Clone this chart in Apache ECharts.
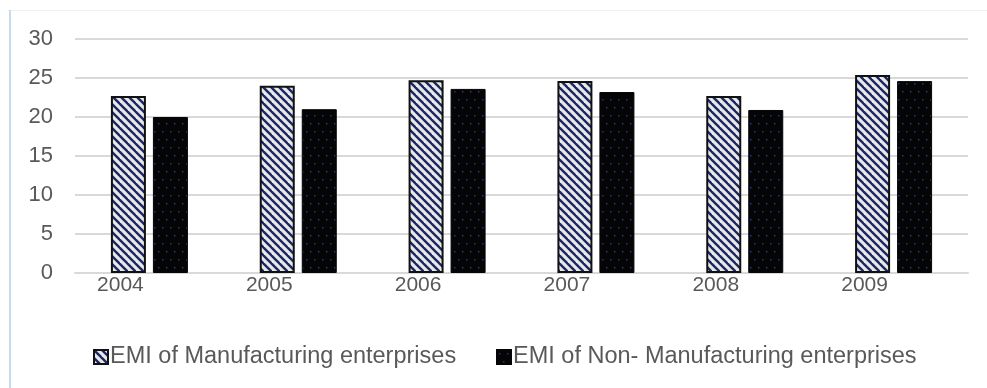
<!DOCTYPE html>
<html>
<head>
<meta charset="utf-8">
<script src="https://cdn.jsdelivr.net/npm/echarts@6/dist/echarts.min.js"></script>
<style>
html,body{margin:0;padding:0;background:#fff;}
#chart{width:987px;height:388px;}
</style>
</head>
<body>
<div id="chart"></div>
<script>
// ---- data ----
var categories = ['2004', '2005', '2006', '2007', '2008', '2009'];
var seriesNames = ['EMI of Manufacturing enterprises', 'EMI of Non- Manufacturing enterprises'];
var manufacturing = [22.7, 24.0, 24.7, 24.6, 22.7, 25.4];
var nonManufacturing = [20.0, 21.0, 23.6, 23.2, 20.9, 24.6];
var yTicks = [0, 5, 10, 15, 20, 25, 30];

// ---- patterns ----
function stripePattern() {
  var c = document.createElement('canvas');
  c.width = 8; c.height = 8;
  var g = c.getContext('2d');
  g.fillStyle = '#e8e8e6';
  g.fillRect(0, 0, 8, 8);
  g.strokeStyle = '#1b2763';
  g.lineWidth = 2.4;
  for (var k = -1; k <= 1; k++) {
    g.beginPath();
    g.moveTo(k * 8 - 2, -2);
    g.lineTo(k * 8 + 10, 10);
    g.stroke();
  }
  return c;
}
function dotPattern() {
  var c = document.createElement('canvas');
  c.width = 8; c.height = 16;
  var g = c.getContext('2d');
  g.fillStyle = '#050505';
  g.fillRect(0, 0, 8, 16);
  g.fillStyle = '#22348f';
  g.fillRect(2, 3, 1.5, 1.5);
  g.fillRect(6, 11, 1.5, 1.5);
  return c;
}

var chart = echarts.init(document.getElementById('chart'), null, {renderer: 'canvas'});
var textColor = '#595959';
var font = '"Liberation Sans", Arial, sans-serif';

chart.setOption({
  backgroundColor: '#ffffff',
  animation: false,
  graphic: [
    {type: 'line', shape: {x1: 8, y1: 10.5, x2: 987, y2: 10.5}, style: {stroke: '#f0f0f0', lineWidth: 1}, silent: true},
    {type: 'line', shape: {x1: 10, y1: 10, x2: 10, y2: 388}, style: {stroke: '#c6dbf0', lineWidth: 2}, silent: true}
  ],
  grid: {left: 75, right: 19, top: 39, bottom: 115, containLabel: false},
  legend: [
    {
      data: [seriesNames[0]], left: 88, top: 340,
      itemWidth: 14, itemHeight: 14, itemGap: 0,
      icon: 'rect',
      textStyle: {color: textColor, fontSize: 23.5, fontFamily: font, padding: [0, 0, 0, -3]}
    },
    {
      data: [seriesNames[1]], left: 491, top: 340,
      itemWidth: 14, itemHeight: 14, itemGap: 0,
      icon: 'rect',
      textStyle: {color: textColor, fontSize: 23.5, fontFamily: font, padding: [0, 0, 0, -3]}
    }
  ],
  xAxis: {
    type: 'category',
    data: categories,
    axisLine: {show: true, lineStyle: {color: '#d9d9d9', width: 2}},
    axisTick: {show: false},
    axisLabel: {color: textColor, fontSize: 21, fontFamily: font, margin: 2, padding: [0, 58, 0, 0]}
  },
  yAxis: {
    type: 'value',
    min: yTicks[0], max: yTicks[yTicks.length - 1], interval: 5,
    axisLine: {show: false},
    axisTick: {show: false},
    splitLine: {lineStyle: {color: '#d9d9d9', width: 2}},
    axisLabel: {color: textColor, fontSize: 22, fontFamily: font, margin: 22}
  },
  series: [
    {
      name: seriesNames[0], type: 'bar', data: manufacturing,
      barWidth: 35, barGap: '20%',
      itemStyle: {color: {image: stripePattern(), repeat: 'repeat'}, borderColor: '#111111', borderWidth: 2}
    },
    {
      name: seriesNames[1], type: 'bar', data: nonManufacturing,
      barWidth: 35, barGap: '20%',
      itemStyle: {color: {image: dotPattern(), repeat: 'repeat'}, borderColor: '#050505', borderWidth: 1}
    }
  ]
});
</script>
</body>
</html>
